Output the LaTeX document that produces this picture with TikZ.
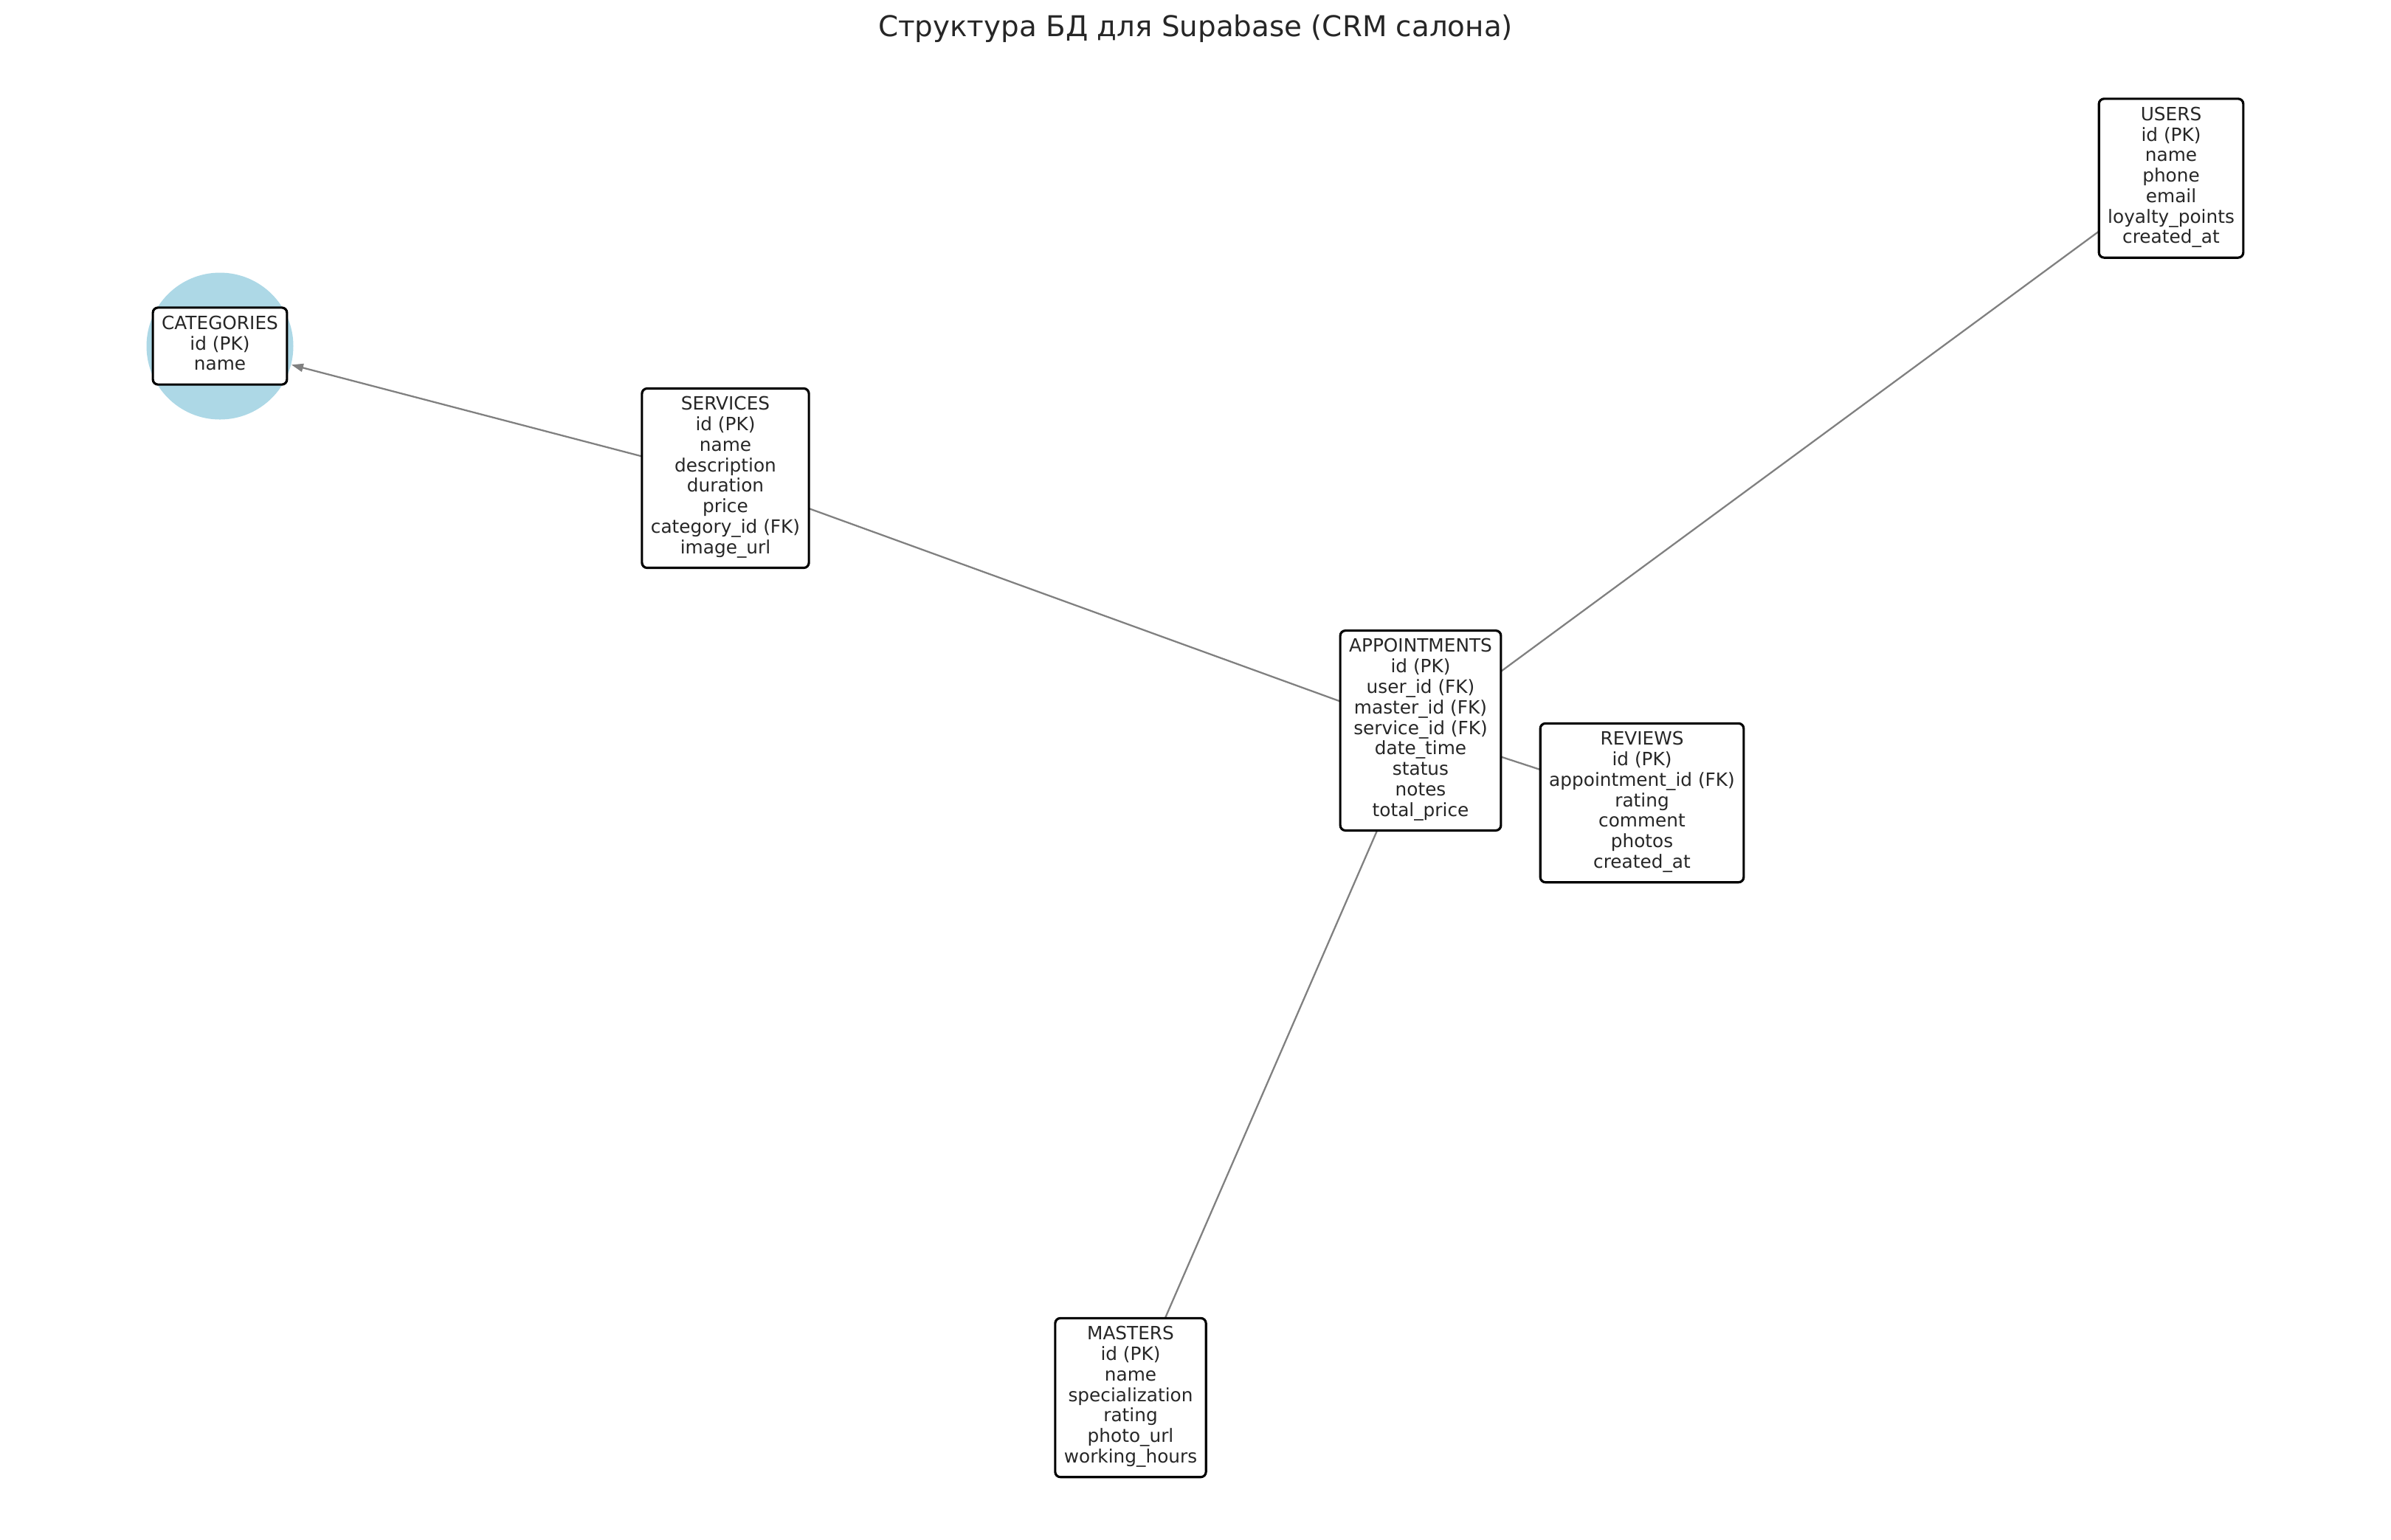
\documentclass[tikz,border=0pt]{standalone}
\usepackage{fontspec}
\setmainfont{DejaVu Sans}
\usetikzlibrary{arrows.meta,backgrounds}

\definecolor{txtgray}{HTML}{262626}
\definecolor{edgegray}{HTML}{808080}
\definecolor{nodeblue}{HTML}{ADD8E6}

\tikzset{
	tbl/.style={draw=black, line width=0.9pt, fill=white, rounded corners=0.07cm,
		align=center, text=txtgray, font=\fontsize{7.05}{7.9}\selectfont,
		inner xsep=0.12cm, inner ysep=0.11cm,
		execute at begin node=\strut, execute at end node=\strut},
	rel/.style={draw=edgegray, line width=0.65pt},
}

\begin{document}
\begin{tikzpicture}
		\useasboundingbox (0,0) rectangle (32.4,-20.86);
		\node[text=txtgray, font=\fontsize{11.05}{13}\selectfont] (title) at (16.2,-0.39)
		{Структура БД для Supabase (CRM салона)};

		\node[tbl] (categories) at (2.98,-4.69) {CATEGORIES\\id (PK)\\name};
		\node[tbl] (services) at (9.83,-6.48) {SERVICES\\id (PK)\\name\\description\\duration\\price\\category\_id (FK)\\image\_url};
		\node[tbl] (appointments) at (19.25,-9.9) {APPOINTMENTS\\id (PK)\\user\_id (FK)\\master\_id (FK)\\service\_id (FK)\\date\_time\\status\\notes\\total\_price};
		\node[tbl] (reviews) at (22.25,-10.88) {REVIEWS\\id (PK)\\appointment\_id (FK)\\rating\\comment\\photos\\created\_at};
		\node[tbl] (users) at (29.42,-2.415) {USERS\\id (PK)\\name\\phone\\email\\loyalty\_points\\created\_at};
		\node[tbl] (masters) at (15.32,-18.94) {MASTERS\\id (PK)\\name\\specialization\\rating\\photo\_url\\working\_hours};

		\begin{scope}[on background layer]
		\node[circle, fill=nodeblue, minimum size=1.99cm, inner sep=0pt] (catdot) at (categories.center) {};
		\draw[rel, -{Triangle[length=0.16cm, width=0.11cm]}] (services.center) -- (catdot);
		\draw[rel] (services.center) -- (appointments.center);
		\draw[rel] (appointments.center) -- (users.center);
		\draw[rel] (appointments.center) -- (reviews.center);
		\draw[rel] (appointments.center) -- (masters.center);
%		\draw[rel] (reviews.center) -- (users.center);
		\end{scope}
	\end{tikzpicture}
\end{document}
